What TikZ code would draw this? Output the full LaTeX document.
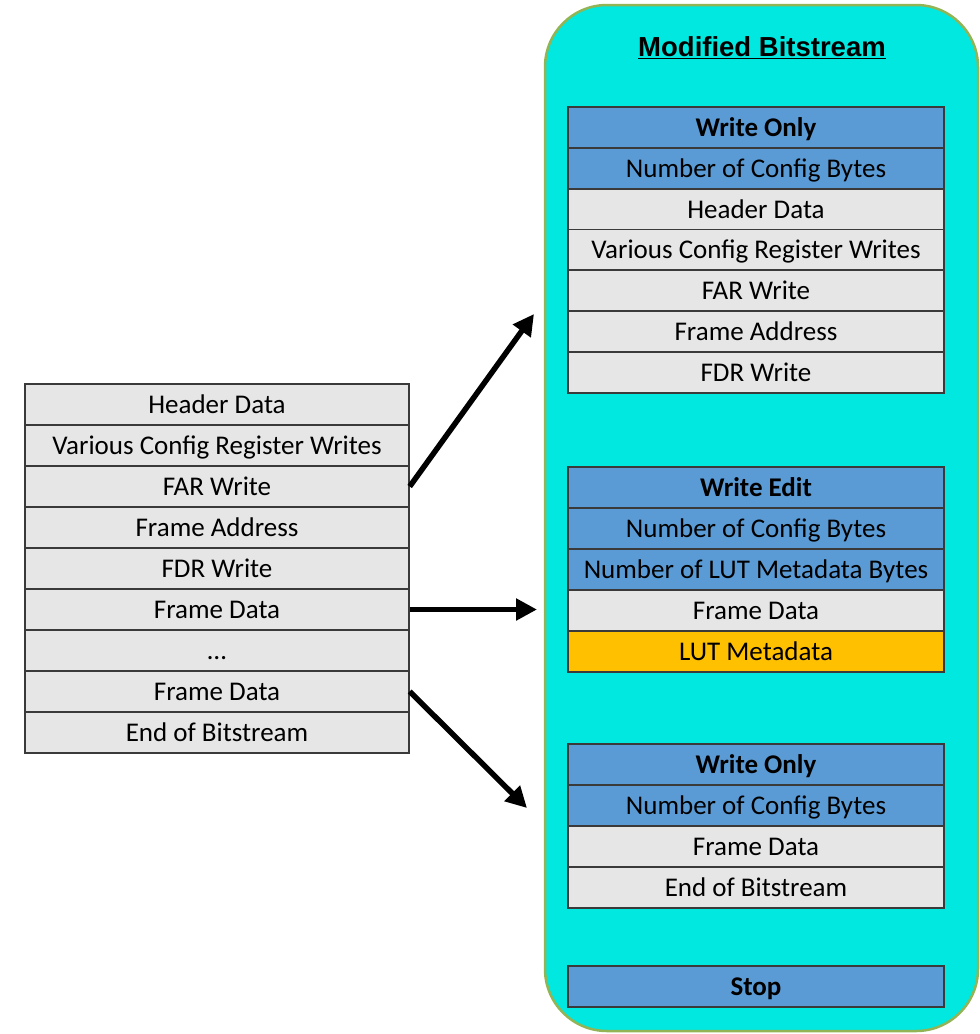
\documentclass[tikz,border=0pt]{standalone}
\usepackage{fontspec}
\setmainfont{Carlito}
\newfontfamily\titlefont{Liberation Sans}
\usetikzlibrary{arrows.meta}
\definecolor{cyanfill}{HTML}{00E8E0}
\definecolor{cyanedge}{HTML}{92B454}
\definecolor{rowgray}{HTML}{E6E6E6}
\definecolor{rowblue}{HTML}{5B9BD5}
\definecolor{rowgold}{HTML}{FFC000}
\definecolor{rowedge}{HTML}{3A3A3A}
\tikzset{
  rowbase/.style={draw=rowedge, line width=1.4pt, minimum height=41pt, inner sep=0pt,
    text height=20pt, text depth=3pt,
    font=\fontsize{27}{31}\selectfont, text=black},
  lrow/.style={rowbase, fill=rowgray, minimum width=384pt},
  rrow/.style={rowbase, fill=rowgray, minimum width=376pt},
  rblue/.style={rrow, fill=rowblue},
  rhead/.style={rblue, font=\fontsize{27}{31}\selectfont\bfseries},
  rgold/.style={rrow, fill=rowgold},
  bigarrow/.style={line width=5.5pt, -{Triangle[length=21pt,width=21pt]}},
}
\begin{document}
\begin{tikzpicture}[x=1pt,y=-1pt]
\useasboundingbox (0,0) rectangle (980,1034);
% container
\draw[fill=cyanfill, draw=cyanedge, line width=2.5pt, rounded corners=62pt] (545,5) rectangle (978,1031);
\node[font=\titlefont\fontsize{27.5}{31}\selectfont\bfseries] (title) at (762,48) {\underline{Modified Bitstream}};
% right group 1
\node[rhead] (a1) at (756,127.5) {Write Only};
\node[rblue] (a2) at (756,168.5) {Number of Config Bytes};
\node[rrow] (a3) at (756,209.5) {Header Data};
\node[rrow] (a4) at (756,250) {Various Config Register Writes};
\node[rrow] (a5) at (756,290.5) {FAR Write};
\node[rrow] (a6) at (756,331.5) {Frame Address};
\node[rrow] (a7) at (756,372.5) {FDR Write};
% right group 2
\node[rhead] (b1) at (756,487.5) {Write Edit};
\node[rblue] (b2) at (756,528.5) {Number of Config Bytes};
\node[rblue] (b3) at (756,569.5) {Number of LUT Metadata Bytes};
\node[rrow] (b4) at (756,610.5) {Frame Data};
\node[rgold] (b5) at (756,651.5) {LUT Metadata};
% right group 3
\node[rhead] (c1) at (756,764.5) {Write Only};
\node[rblue] (c2) at (756,805.5) {Number of Config Bytes};
\node[rrow] (c3) at (756,846.5) {Frame Data};
\node[rrow] (c4) at (756,887.5) {End of Bitstream};
% stop
\node[rhead] (stop) at (756,986.5) {Stop};
% left stack
\node[lrow] (l1) at (217,404.5) {Header Data};
\node[lrow] (l2) at (217,445.5) {Various Config Register Writes};
\node[lrow] (l3) at (217,486.5) {FAR Write};
\node[lrow] (l4) at (217,527.5) {Frame Address};
\node[lrow] (l5) at (217,568.5) {FDR Write};
\node[lrow] (l6) at (217,609.5) {Frame Data};
\node[lrow] (l7) at (217,650.5) {\dots};
\node[lrow] (l8) at (217,691.5) {Frame Data};
\node[lrow] (l9) at (217,732.5) {End of Bitstream};
% arrows
\coordinate (e1) at (534,314);
\coordinate (e2) at (537,609.5);
\coordinate (e3) at (527,808);
\draw[bigarrow] (l3.east) -- (e1);
\draw[bigarrow] (l6.east) -- (e2);
\draw[bigarrow] (l8.east) -- (e3);
\end{tikzpicture}
\end{document}
